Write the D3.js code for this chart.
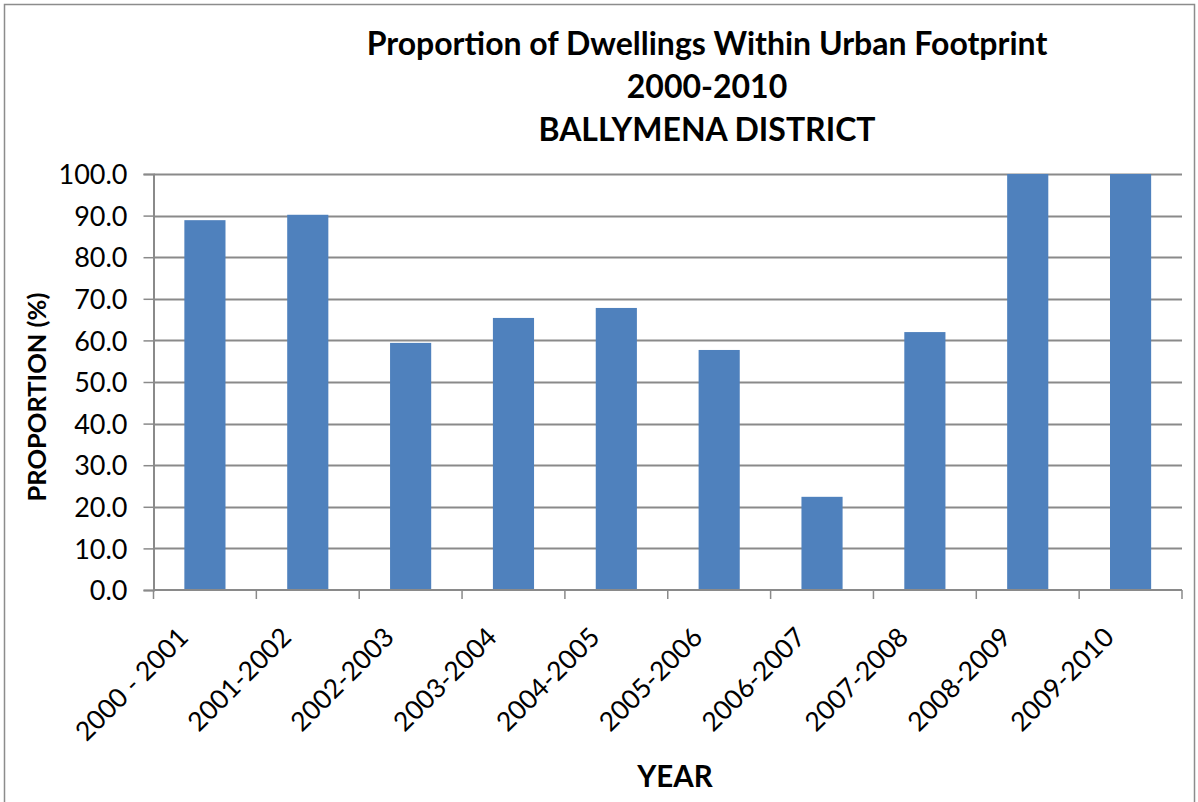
<!DOCTYPE html>
<html><head><meta charset="utf-8">
<script src="https://cdn.jsdelivr.net/npm/d3@7"></script>
<style>body{margin:0;background:#fff}svg{display:block}</style>
</head><body>
<svg id="c" width="1198" height="802"></svg>
<script>
const categories = ["2000 - 2001","2001-2002","2002-2003","2003-2004","2004-2005","2005-2006","2006-2007","2007-2008","2008-2009","2009-2010"];
const values = [88.9, 90.2, 59.4, 65.4, 67.8, 57.7, 22.4, 62.0, 100.0, 100.0];
const yTicks = [0,10,20,30,40,50,60,70,80,90,100];
const titleLines = ["Proportion of Dwellings Within Urban Footprint","2000-2010","BALLYMENA DISTRICT"];

const font = "Lato, Carlito, Calibri, sans-serif";
const svg = d3.select("#c");
const m={l:153.5,r:1182,t:174,b:590};

svg.append("rect").attr("x",4.5).attr("y",4.5).attr("width",1190).attr("height",805)
  .attr("fill","#fff").attr("stroke","#8c8c8c").attr("stroke-width",1.5);

const x=d3.scaleBand().domain(categories).range([m.l,m.r]).paddingInner(0.6).paddingOuter(0.3);
const y=d3.scaleLinear().domain([0,100]).range([m.b,m.t]);

// gridlines
svg.append("g").selectAll("line").data(yTicks.filter(d=>d>0)).join("line")
  .attr("x1",m.l).attr("x2",m.r).attr("y1",d=>Math.round(y(d))+0.5).attr("y2",d=>Math.round(y(d))+0.5)
  .attr("stroke","#8a8a8a").attr("stroke-width",2);

// bars
svg.append("g").selectAll("rect").data(values).join("rect")
  .attr("x",(d,i)=>x(categories[i])).attr("width",x.bandwidth())
  .attr("y",d=>y(d)).attr("height",d=>y(0)-y(d)).attr("fill","#4f81bd");

// y axis
const ya=svg.append("g").attr("transform",`translate(${m.l},0)`)
  .call(d3.axisLeft(y).tickValues(yTicks).tickFormat(d3.format(".1f")).tickSize(10).tickPadding(16));
ya.select(".domain").attr("stroke","#8a8a8a").attr("stroke-width",2);
ya.selectAll(".tick line").attr("stroke","#8a8a8a").attr("stroke-width",1.5);
ya.selectAll("text").attr("font-family",font).attr("font-size",27).attr("fill","#000").attr("dy","0.36em");

// x axis
const step=x.step();
const xa=svg.append("g").attr("transform",`translate(0,${m.b})`);
xa.append("line").attr("x1",m.l).attr("x2",m.r).attr("stroke","#8a8a8a").attr("stroke-width",2);
const bounds=d3.range(categories.length+1).map(i=>m.l+i*step);
xa.selectAll(".tk").data(bounds).join("line").attr("class","tk")
  .attr("x1",d=>d).attr("x2",d=>d).attr("y1",0).attr("y2",9).attr("stroke","#8a8a8a").attr("stroke-width",1.5);
xa.selectAll(".lbl").data(categories).join("text").attr("class","lbl")
  .attr("transform",d=>`translate(${x(d)+x.bandwidth()/2-15},${49}) rotate(-45)`)
  .attr("text-anchor","end").attr("font-family",font).attr("font-size",26.5).attr("fill","#000").text(d=>d);

// titles
svg.append("g").selectAll("text").data(titleLines).join("text")
  .attr("x",707).attr("y",(d,i)=>55+i*43).attr("text-anchor","middle")
  .attr("font-family",font).attr("font-weight","bold").attr("font-size",32).attr("fill","#000").text(d=>d);

svg.append("text").attr("x",675).attr("y",787).attr("text-anchor","middle")
  .attr("font-family",font).attr("font-weight","bold").attr("font-size",29.5).text("YEAR");
svg.append("text").attr("transform",`translate(46,397) rotate(-90)`).attr("text-anchor","middle")
  .attr("font-family",font).attr("font-weight","bold").attr("font-size",25.5).text("PROPORTION (%)");
</script>
</body></html>
